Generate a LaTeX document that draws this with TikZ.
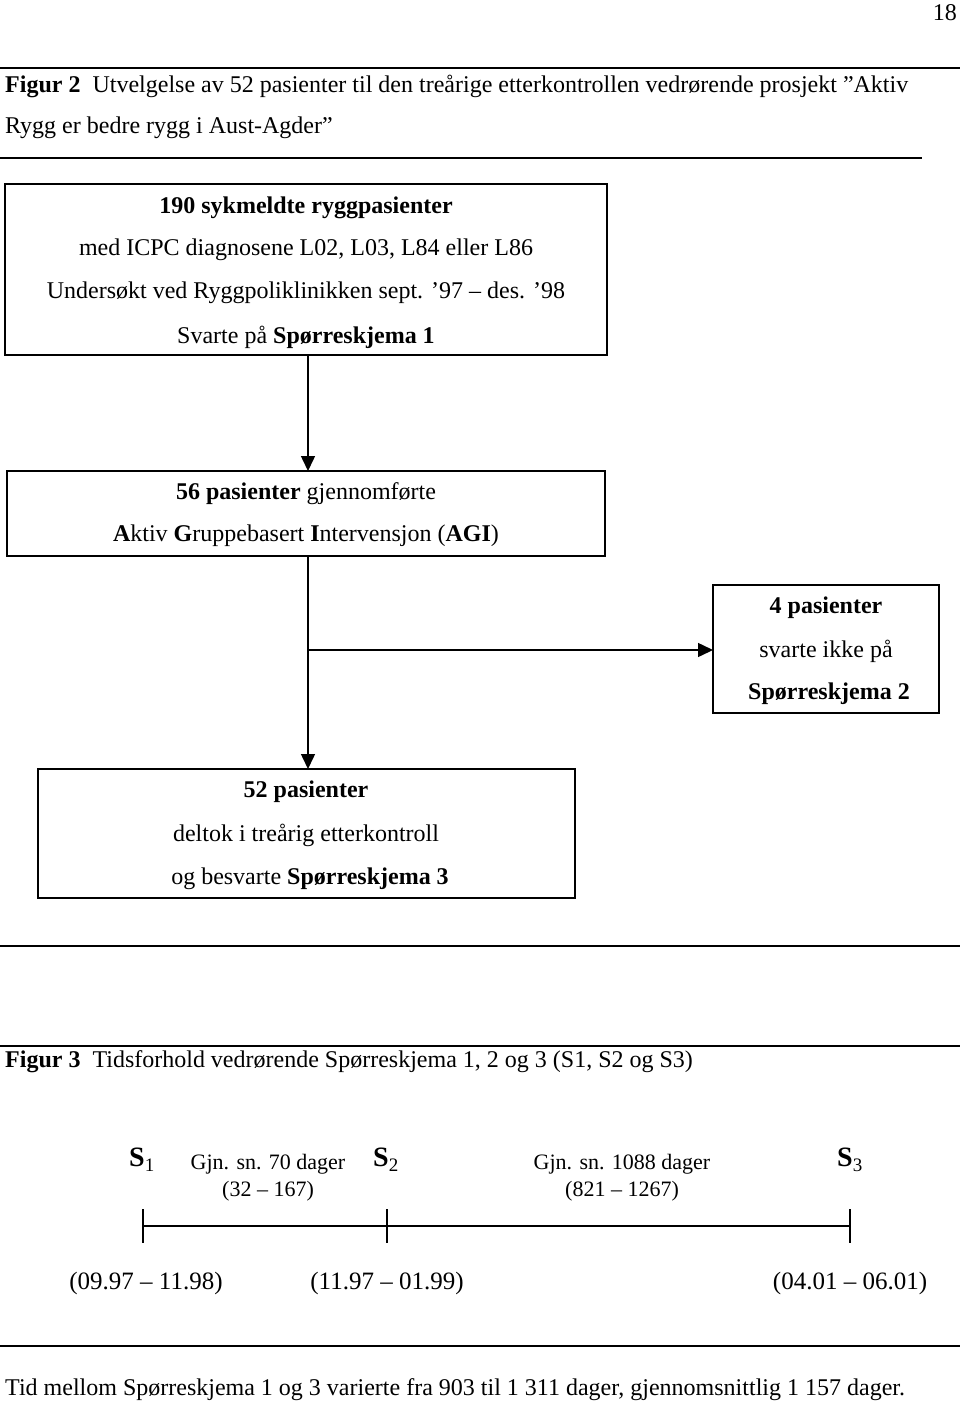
\documentclass[tikz,border=0pt]{standalone}
\usepackage{fontspec}
\setmainfont{Liberation Serif}
\usetikzlibrary{arrows.meta}
\newcommand{\subn}[1]{\raisebox{-5pt}{\fontsize{19}{21}\selectfont\mdseries #1}}
\begin{document}
\begin{tikzpicture}[x=1pt,y=-1pt,
  txt/.style={inner sep=0pt,font=\fontsize{24}{28}\selectfont},
  small/.style={inner sep=0pt,font=\fontsize{22}{26}\selectfont},
  date/.style={inner sep=0pt,font=\fontsize{25}{29}\selectfont},
  big/.style={inner sep=0pt,font=\fontsize{28}{32}\selectfont\bfseries},
  boxx/.style={draw,line width=1.6pt},
  rule/.style={line width=1.2pt},
  arr/.style={line width=1.5pt,-{Triangle[width=14pt,length=15pt]}},
  con/.style={line width=1.5pt}]
\useasboundingbox (0,0) rectangle (960,1405);
\node[txt,anchor=east] (pg) at (957,13) {18};
\draw[rule] (0,68) -- (960,68);
\node[txt,anchor=west] (cap1) at (5,86) {\textbf{Figur 2}\enspace Utvelgelse av 52 pasienter til den treårige etterkontrollen vedrørende prosjekt ”Aktiv};
\node[txt,anchor=west] (cap2) at (5,128) {Rygg er bedre rygg i Aust-Agder”};
\draw[rule] (0,158) -- (922,158);
% box 1
\draw[boxx] (5,184) rectangle (607,355);
\node[txt] (b1a) at (306,208) {\textbf{190 sykmeldte ryggpasienter}};
\node[txt] (b1b) at (306,250) {med ICPC diagnosene L02, L03, L84 eller L86};
\node[txt] (b1c) at (306,293) {Undersøkt ved Ryggpoliklinikken sept. ’97 – des. ’98};
\node[txt] (b1d) at (306,337) {Svarte på \textbf{Spørreskjema 1}};
\coordinate (b1bot) at (308,355);
% box 2
\draw[boxx] (7,471) rectangle (605,556);
\coordinate (b2top) at (308,471);
\coordinate (b2bot) at (308,556);
\node[txt] (b2a) at (306,494) {\textbf{56 pasienter} gjennomførte};
\node[txt] (b2b) at (306,536) {\textbf{A}ktiv \textbf{G}ruppebasert \textbf{I}ntervensjon (\textbf{AGI})};
% box 4
\draw[boxx] (713,585) rectangle (939,713);
\coordinate (b4left) at (713,650);
\node[txt] (b4a) at (826,608) {\textbf{4 pasienter}};
\node[txt] (b4b) at (826,651) {svarte ikke på};
\node[txt] (b4c) at (829,694) {\textbf{Spørreskjema 2}};
% box 3
\draw[boxx] (38,769) rectangle (575,898);
\coordinate (b3top) at (308,769);
\node[txt] (b3a) at (306,792) {\textbf{52 pasienter}};
\node[txt] (b3b) at (306,835) {deltok i treårig etterkontroll};
\node[txt] (b3c) at (310,879) {og besvarte \textbf{Spørreskjema 3}};
\coordinate (br) at (308,650);
% connectors
\draw[arr] (b1bot) -- (b2top);
\draw[arr] (b2bot) -- (b3top);
\draw[arr] (br) -- (b4left);
% rules
\draw[rule] (0,946) -- (960,946);
\draw[rule] (0,1046) -- (960,1046);
\node[txt,anchor=west] (cap3) at (5,1062) {\textbf{Figur 3}\enspace Tidsforhold vedrørende Spørreskjema 1, 2 og 3 (S1, S2 og S3)};
% timeline
\node[big,anchor=base west] (s1) at (129,1166) {S\subn{1}};
\node[big,anchor=base west] (s2) at (373,1166) {S\subn{2}};
\node[big,anchor=base west] (s3) at (837,1166) {S\subn{3}};
\node[small] (g1) at (268,1164) {Gjn. sn. 70 dager};
\node[small] (g1r) at (268,1191) {(32 – 167)};
\node[small] (g2) at (622,1164) {Gjn. sn. 1088 dager};
\node[small] (g2r) at (622,1191) {(821 – 1267)};
\coordinate (t1) at (143,1226);
\coordinate (t2) at (387,1226);
\coordinate (t3) at (850,1226);
\draw[con] (t1) -- (t2) -- (t3);
\draw[con] (143,1209) -- (143,1243);
\draw[con] (387,1209) -- (387,1243);
\draw[con] (850,1209) -- (850,1243);
\node[date] (d1) at (146,1283) {(09.97 – 11.98)};
\node[date] (d2) at (387,1283) {(11.97 – 01.99)};
\node[date] (d3) at (850,1283) {(04.01 – 06.01)};
\draw[rule] (0,1346) -- (960,1346);
\node[txt,anchor=west] (foot) at (5,1390) {Tid mellom Spørreskjema 1 og 3 varierte fra 903 til 1 311 dager, gjennomsnittlig 1 157 dager.};
\end{tikzpicture}
\end{document}
